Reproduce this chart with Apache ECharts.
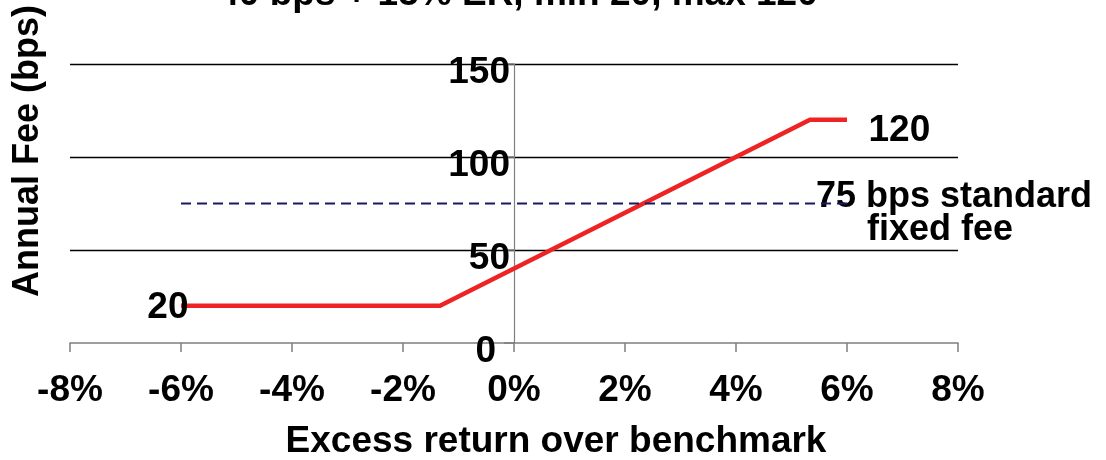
<!DOCTYPE html>
<html>
<head>
<meta charset="utf-8">
<script src="https://cdn.jsdelivr.net/npm/echarts@6/dist/echarts.min.js"></script>
<style>
  html, body { margin: 0; padding: 0; background: #fff; }
  #chart { width: 1106px; height: 460px; }
</style>
</head>
<body>
<div id="chart"></div>
<script>
// Fee schedule: base fee plus a share of excess return, with a floor and a cap
const titleText = '40 bps + 15% ER, min 20, max 120';
const feeReturn = [-6, -1.333, 5.333, 6];      // excess return, %
const feeBps = [20, 20, 120, 120];             // annual fee, bps
const fixedReturn = [-6, 6];                   // extent of the fixed-fee reference line, %
const fixedBps = [75, 75];                     // standard fixed fee, bps
const xTickValues = [-8, -6, -4, -2, 0, 2, 4, 6, 8];
const yTickValues = [0, 50, 100, 150];
const xAxisTitle = 'Excess return over benchmark';
const yAxisTitle = 'Annual Fee (bps)';

const FONT = "'Liberation Sans', Arial, sans-serif";
const LABEL = { fontFamily: FONT, fontWeight: 'bold', fontSize: 37, color: '#000' };

const GRID = { left: 70, right: 148, top: 64, bottom: 117 };
const plotWidth = 1106 - GRID.left - GRID.right;
const xMin = xTickValues[0];
const xMax = xTickValues[xTickValues.length - 1];
// shift the value axis so it crosses the horizontal axis at 0%
const yAxisOffset = -plotWidth * (0 - xMin) / (xMax - xMin);

const chart = echarts.init(document.getElementById('chart'), null, { renderer: 'canvas' });

const feeData = feeReturn.map((x, i) => {
  const item = { value: [x, feeBps[i]] };
  if (i === 0) {
    item.label = { show: true, position: 'left', distance: -8, offset: [0, 2], ...LABEL };
  } else if (i === feeReturn.length - 1) {
    item.label = { show: true, position: 'right', distance: 21, offset: [0, 11], ...LABEL };
  }
  return item;
});

const fixedData = fixedReturn.map((x, i) => [x, fixedBps[i]]);

const tickRich = {
  n: { ...LABEL },
  z: { ...LABEL, padding: [0, 14, 0, 0] }
};

chart.setOption({
  animation: false,
  backgroundColor: '#fff',
  grid: { ...GRID, containLabel: false },
  xAxis: {
    type: 'value',
    min: xMin,
    max: xMax,
    interval: 2,
    axisLine: { onZero: false, lineStyle: { color: '#7f7f7f', width: 1.5 } },
    axisTick: { show: true, inside: false, length: 9, lineStyle: { color: '#7f7f7f', width: 1.5 } },
    splitLine: { show: false },
    axisLabel: { ...LABEL, margin: 29, formatter: v => v + '%' }
  },
  yAxis: {
    type: 'value',
    min: yTickValues[0],
    max: yTickValues[yTickValues.length - 1],
    interval: 50,
    offset: yAxisOffset,
    axisLine: { show: true, onZero: false, lineStyle: { color: '#7f7f7f', width: 1.2 } },
    axisTick: { show: true, length: 10, lineStyle: { color: '#7f7f7f', width: 1.5 } },
    splitLine: { show: true, lineStyle: { color: ['rgba(0,0,0,0)', '#000', '#000', '#000'], width: 1.3 } },
    axisLabel: {
      ...LABEL, margin: 4, verticalAlign: 'top', lineHeight: 18,
      formatter: v => (v === 0 ? '{z|' + v + '}' : '{n|' + v + '}'),
      rich: tickRich
    }
  },
  series: [
    {
      name: 'Fee',
      type: 'line',
      data: feeData,
      symbol: 'circle',
      symbolSize: 1,
      showSymbol: true,
      itemStyle: { color: 'rgba(0,0,0,0)' },
      z: 3,
      lineStyle: { color: '#ee2424', width: 4.5, join: 'miter' },
      label: { show: false, formatter: p => String(p.value[1]) }
    },
    {
      name: 'Fixed fee',
      type: 'line',
      data: fixedData,
      symbol: 'none',
      z: 4,
      lineStyle: { color: '#191966', width: 2.2, type: [10, 6] }
    }
  ]
});

// Text placed relative to the plotted scales
const p75 = chart.convertToPixel({ gridIndex: 0 }, [fixedReturn[1], fixedBps[1]]);

chart.setOption({
  graphic: [
    {
      type: 'text', z: 1,
      style: { text: titleText, x: 518, y: -5, align: 'center', verticalAlign: 'middle', font: `bold 37px ${FONT}`, fill: '#000' }
    },
    {
      type: 'text', z: 1,
      style: { text: fixedBps[0] + ' bps standard', x: p75[0] - 31, y: p75[1] - 6, align: 'left', verticalAlign: 'middle', font: `bold 36px ${FONT}`, fill: '#000' }
    },
    {
      type: 'text', z: 1,
      style: { text: 'fixed fee', x: p75[0] + 20, y: p75[1] + 27, align: 'left', verticalAlign: 'middle', font: `bold 36px ${FONT}`, fill: '#000' }
    },
    {
      type: 'text', z: 1,
      style: { text: xAxisTitle, x: 556, y: 442, align: 'center', verticalAlign: 'middle', font: `bold 37px ${FONT}`, fill: '#000' }
    },
    {
      type: 'text', z: 1,
      rotation: Math.PI / 2, x: 28, y: 151,
      style: { text: yAxisTitle, x: 0, y: 0, align: 'center', verticalAlign: 'middle', font: `bold 36px ${FONT}`, fill: '#000' }
    }
  ]
});
</script>
</body>
</html>
